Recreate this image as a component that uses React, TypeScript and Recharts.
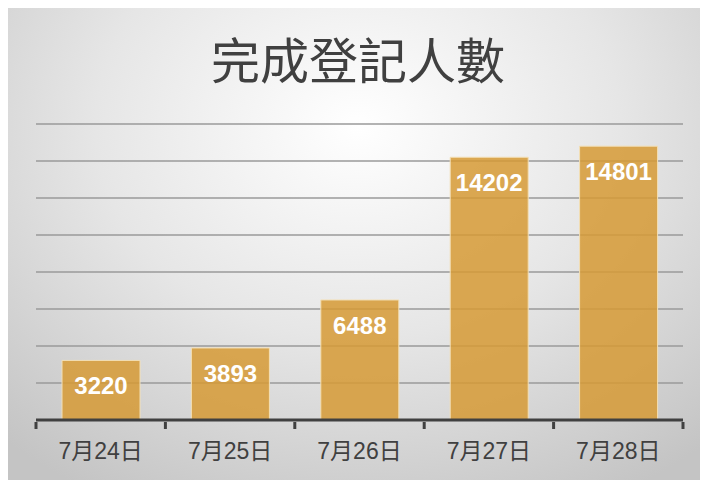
import React from "react";
import { Bar, BarChart, CartesianGrid, LabelList, XAxis, YAxis } from "recharts";

const days = ["7月24日", "7月25日", "7月26日", "7月27日", "7月28日"];
const registered = [3220, 3893, 6488, 14202, 14801];
const yTicks = [0, 2000, 4000, 6000, 8000, 10000, 12000, 14000, 16000];

const chartData = days.map((day, i) => ({ day, count: registered[i] }));

const CHART_W = 700;
const CHART_H = 472;
const PLOT_LEFT = 28;
const PLOT_RIGHT = 25;
const bandWidth = (CHART_W - PLOT_LEFT - PLOT_RIGHT) / days.length;

const DayTick = (props: any) => {
  const { x, y, payload, index } = props;
  const isLast = index === days.length - 1;
  return (
    <g>
      <line x1={x - bandWidth / 2} x2={x - bandWidth / 2} y1={y - 6} y2={y + 1} stroke="#404040" strokeWidth={3} />
      {isLast && (
        <line x1={x + bandWidth / 2} x2={x + bandWidth / 2} y1={y - 6} y2={y + 1} stroke="#404040" strokeWidth={3} />
      )}
      <text
        x={x}
        y={y + 31}
        textAnchor="middle"
        fill="#404040"
        fontSize={23}
        fontFamily="'Liberation Sans', 'Noto Sans CJK TC', sans-serif"
      >
        {payload.value}
      </text>
    </g>
  );
};

export default function App() {
  return (
    <div
      style={{
        position: "relative",
        width: CHART_W,
        height: CHART_H,
        background:
          "radial-gradient(ellipse 75% 90% at 50% 25%, #ffffff 0%, #e6e6e6 50%, #c4c4c4 100%)",
      }}
    >
      <div
        style={{
          position: "absolute",
          top: 20,
          left: 0,
          width: "100%",
          textAlign: "center",
          fontFamily: "'Noto Sans CJK TC', sans-serif",
          fontSize: 49,
          lineHeight: "60px",
          color: "#404040",
        }}
      >
        完成登記人數
      </div>
      <BarChart
        width={CHART_W}
        height={CHART_H}
        data={chartData}
        margin={{ top: 116, right: PLOT_RIGHT, left: PLOT_LEFT, bottom: 0 }}
        style={{ position: "absolute", top: 0, left: 0 }}
      >
        <CartesianGrid vertical={false} stroke="#9a9a9a" strokeWidth={1.5} />
        <YAxis hide domain={[0, 16000]} ticks={yTicks} />
        <XAxis
          dataKey="day"
          height={60}
          axisLine={{ stroke: "#404040", strokeWidth: 3 }}
          tickLine={false}
          tick={<DayTick />}
          interval={0}
        />
        <Bar
          dataKey="count"
          barSize={78}
          fill="#d69a35"
          fillOpacity={0.85}
          stroke="#f3dfb5"
          strokeWidth={1}
          isAnimationActive={false}
        >
          <LabelList
            dataKey="count"
            position="insideTop"
            offset={17}
            fill="#ffffff"
            fontSize={24}
            fontWeight="bold"
            fontFamily="'Liberation Sans', Arial, sans-serif"
          />
        </Bar>
      </BarChart>
    </div>
  );
}
